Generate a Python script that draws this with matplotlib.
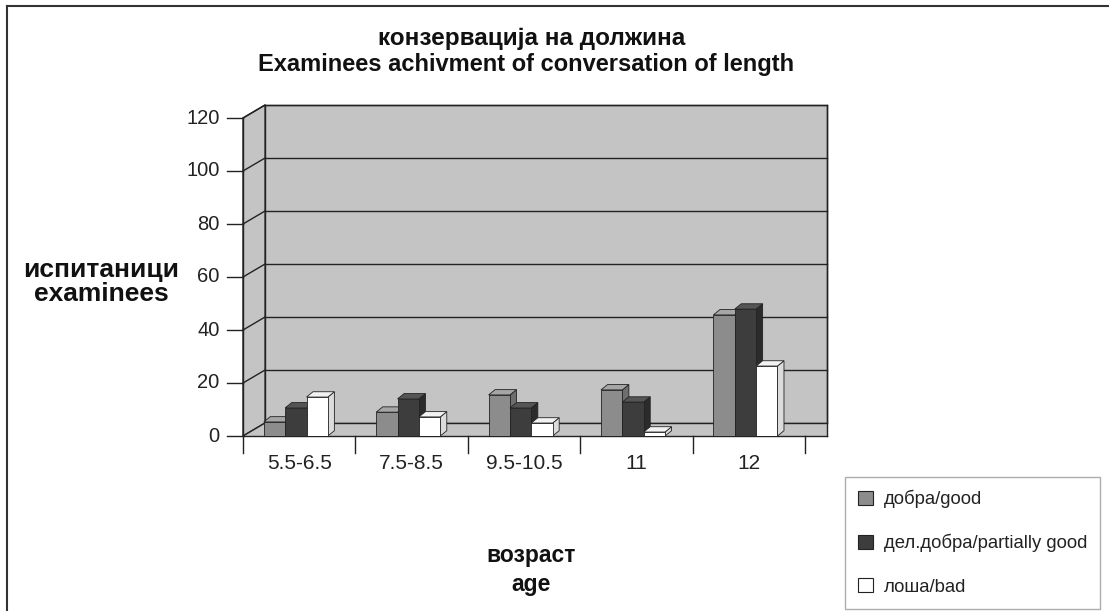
import numpy as np
import matplotlib.pyplot as plt
from matplotlib.patches import Polygon, Patch
from matplotlib.lines import Line2D

plt.rcParams['font.family'] = ['Liberation Sans', 'DejaVu Sans']

ages = ['5.5-6.5', '7.5-8.5', '9.5-10.5', '11', '12']
good = [5.3, 9, 15.5, 17.4, 45.7]
partial = [10.6, 14, 10.6, 12.8, 47.9]
bad = [14.7, 7.2, 4.9, 1.5, 26.4]
series_names = ['добра/good', 'дел.добра/partially good', 'лоша/bad']
yticks = [0, 20, 40, 60, 80, 100, 120]

# face colours: front, side, top
shades = [('#8c8c8c', '#6e6e6e', '#a6a6a6'),
          ('#3d3d3d', '#2b2b2b', '#555555'),
          ('#ffffff', '#dcdcdc', '#f2f2f2')]

fig = plt.figure(figsize=(11.09, 6.11), dpi=100)
ax = fig.add_axes([243 / 1109, 1 - 436 / 611, 562 / 1109, 318 / 611])
ax.set_xlim(-0.5, 4.5)
ax.set_ylim(0, 120)
ax.axis('off')

# wall depth in data units
dx, dy = 0.196, 4.9
wall = '#c4c4c4'
edge = '#222222'
x0, x1 = -0.5, 4.5
ymax = yticks[-1]

# back wall, side wall, floor
ax.add_patch(Polygon([(x0 + dx, dy), (x1 + dx, dy), (x1 + dx, ymax + dy), (x0 + dx, ymax + dy)],
                     closed=True, fc=wall, ec=edge, lw=1, clip_on=False, zorder=1))
ax.add_patch(Polygon([(x0, 0), (x0 + dx, dy), (x0 + dx, ymax + dy), (x0, ymax)],
                     closed=True, fc=wall, ec=edge, lw=1, clip_on=False, zorder=1))
ax.add_patch(Polygon([(x0, 0), (x1 + dx, 0), (x1 + dx, dy), (x0 + dx, dy)],
                     closed=True, fc=wall, ec='none', clip_on=False, zorder=1))

for v in yticks:
    ax.plot([x0 + dx, x1 + dx], [v + dy, v + dy], color=edge, lw=1, clip_on=False, zorder=2)
    ax.plot([x0, x0 + dx], [v, v + dy], color=edge, lw=1, clip_on=False, zorder=2)
    ax.plot([x0 - 0.14, x0], [v, v], color=edge, lw=1, clip_on=False, zorder=2)
    ax.text(x0 - 0.21, v, str(v), ha='right', va='center', fontsize=14.5, color='#222222')

# front axis lines and category ticks
ax.plot([x0, x1 + dx], [0, 0], color=edge, lw=1, clip_on=False, zorder=2)
ax.plot([x0, x0], [0, ymax], color=edge, lw=1, clip_on=False, zorder=2)
ax.plot([x1 + dx, x1 + dx], [0, ymax + dy], color=edge, lw=1, clip_on=False, zorder=2)
for b in np.arange(-0.5, 5.0, 1.0):
    ax.plot([b, b], [0, -6.4], color=edge, lw=1, clip_on=False, zorder=2)
for i, lab in enumerate(ages):
    ax.text(i, -10.5, lab, ha='center', va='center', fontsize=15, color='#222222')

# 3d-looking bars
w = 0.19
bdx, bdy = 0.058, 2.0
shift = -0.03
for i in range(len(ages)):
    for k, vals in enumerate([good, partial, bad]):
        h = vals[i]
        left = i + shift + (k - 1) * w - w / 2
        right = left + w
        front, side, top = shades[k]
        z = 3 + i * 3 + k
        ax.add_patch(Polygon([(right, 0), (right + bdx, bdy), (right + bdx, h + bdy), (right, h)],
                             closed=True, fc=side, ec=edge, lw=0.6, zorder=z))
        ax.add_patch(Polygon([(left, h), (right, h), (right + bdx, h + bdy), (left + bdx, h + bdy)],
                             closed=True, fc=top, ec=edge, lw=0.6, zorder=z))
        ax.add_patch(Polygon([(left, 0), (right, 0), (right, h), (left, h)],
                             closed=True, fc=front, ec=edge, lw=0.6, zorder=z))

# titles
fig.text(532 / 1109, 1 - 38 / 611, 'конзервација на должина', ha='center', va='center',
         fontsize=17.5, fontweight='bold', color='#111111')
fig.text(526 / 1109, 1 - 64 / 611, 'Examinees achivment of conversation of length', ha='center',
         va='center', fontsize=17, fontweight='bold', color='#111111')
fig.text(101 / 1109, 1 - 282 / 611, 'испитаници\nexaminees', ha='center', va='center',
         fontsize=19, fontweight='bold', color='#111111', linespacing=1.0)
fig.text(531 / 1109, 1 - 570 / 611, 'возраст\nage', ha='center', va='center',
         fontsize=16.5, fontweight='bold', color='#111111', linespacing=1.3)

# outer frame lines
fig.add_artist(Line2D([7 / 1109, 7 / 1109], [0, 1 - 6 / 611], color='#333333', lw=1.5))
fig.add_artist(Line2D([7 / 1109, 1], [1 - 6 / 611, 1 - 6 / 611], color='#333333', lw=1.5))

handles = [Patch(fc=s[0], ec=edge, lw=0.8) for s in shades]
leg = fig.legend(handles, series_names, loc='upper left',
                 bbox_to_anchor=(845 / 1109, 1 - 477 / 611), frameon=True, fancybox=False,
                 edgecolor='#999999', fontsize=13.3, labelspacing=1.4, handlelength=0.8,
                 handleheight=0.8, handletextpad=0.6, borderpad=0.7, borderaxespad=0)
leg.get_frame().set_linewidth(1)
for t in leg.get_texts():
    t.set_color('#222222')

fig.savefig('out.png', dpi=100)
